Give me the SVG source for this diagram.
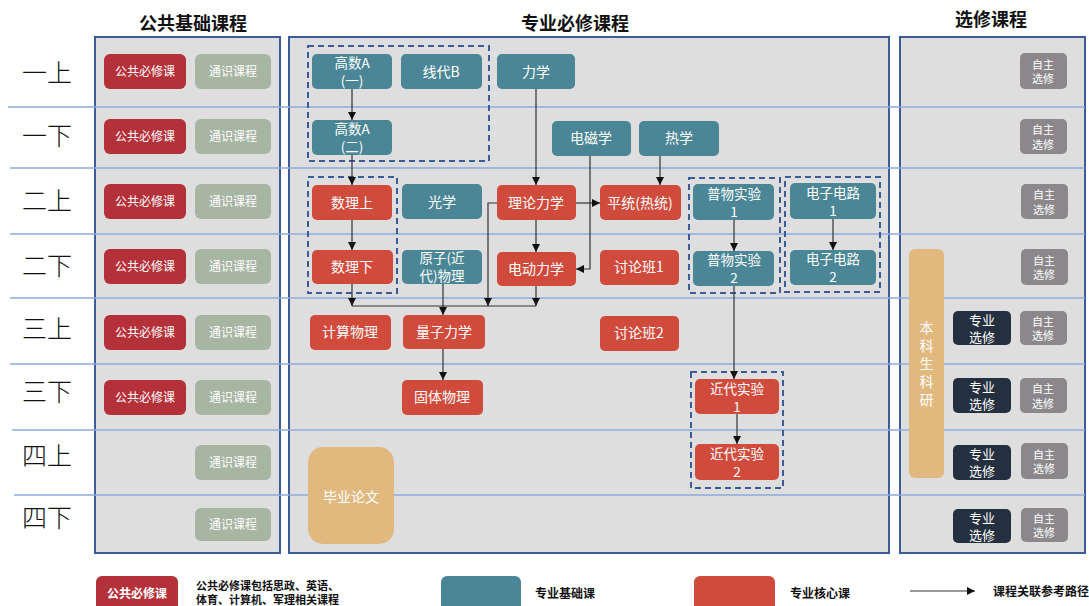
<svg xmlns="http://www.w3.org/2000/svg" width="1089" height="606" viewBox="0 0 1089 606">
<defs>
<style>
text{font-family:"Noto Sans CJK SC","Noto Sans",sans-serif;}
.panel{fill:#dedede;stroke:#3b5c99;stroke-width:2;}
.row{stroke:#8eaadb;stroke-width:1.3;}
.hdr{font-size:18px;font-weight:bold;fill:#111;text-anchor:middle;}
.sem{font-size:25px;fill:#111;text-anchor:middle;font-weight:300;}
.n{fill:#fff;font-size:14px;text-anchor:middle;}
.n2{fill:#fff;font-size:13.5px;text-anchor:middle;}
.e{fill:#fff;font-size:13px;text-anchor:middle;}
.s{fill:#fff;font-size:12px;text-anchor:middle;}
.z{fill:#fff;font-size:11px;text-anchor:middle;}
.v{fill:#fff;font-size:14px;text-anchor:middle;}
.teal{fill:#4a8696;}
.core{fill:#d04b3c;}
.pub{fill:#b5313a;}
.gen{fill:#a7b5a3;}
.gold{fill:#e1b97f;}
.dark{fill:#243040;}
.gray{fill:#8b878b;}
.dash{fill:none;stroke:#3b5c99;stroke-width:2;stroke-dasharray:6 4;}
.c{fill:none;stroke:#333;stroke-width:1.2;}
.leg{font-size:11px;font-weight:bold;fill:#111;}
.leg1{font-size:12px;font-weight:bold;fill:#111;}
</style>
<marker id="ah" viewBox="0 0 10 10" refX="10" refY="5" markerWidth="8" markerHeight="8" markerUnits="userSpaceOnUse" orient="auto">
<path d="M0,0 L10,5 L0,10 z" fill="#111"/>
</marker>
</defs>
<rect width="1089" height="606" fill="#fff"/>

<!-- headers -->
<text class="hdr" x="193" y="30">公共基础课程</text>
<text class="hdr" x="575" y="30">专业必修课程</text>
<text class="hdr" x="991" y="26">选修课程</text>

<!-- panels -->
<rect class="panel" x="95" y="37" width="185" height="516"/>
<rect class="panel" x="289" y="37" width="600" height="516"/>
<rect class="panel" x="900" y="37" width="185" height="516"/>

<!-- row lines -->
<g id="rows">
<line class="row" x1="8" y1="107" x2="1085" y2="107"/>
<line class="row" x1="10" y1="168" x2="1085" y2="168"/>
<line class="row" x1="10" y1="234" x2="1085" y2="234"/>
<line class="row" x1="10" y1="298" x2="1085" y2="298"/>
<line class="row" x1="10" y1="364" x2="1085" y2="364"/>
<line class="row" x1="12" y1="430" x2="1085" y2="430"/>
<line class="row" x1="14" y1="495" x2="1085" y2="495"/>
</g>

<!-- semester labels -->
<g id="semesters">
<text class="sem" x="47" y="82">一上</text>
<text class="sem" x="47" y="145">一下</text>
<text class="sem" x="47" y="210">二上</text>
<text class="sem" x="47" y="275">二下</text>
<text class="sem" x="47" y="338">三上</text>
<text class="sem" x="47" y="401">三下</text>
<text class="sem" x="47" y="465">四上</text>
<text class="sem" x="47" y="527">四下</text>
</g>

<!-- left panel -->
<g id="pub1"><rect class="pub" x="104" y="54" width="82" height="35" rx="6"/><text class="s" x="145" y="76">公共必修课</text></g>
<g id="gen1"><rect class="gen" x="195" y="54" width="76" height="35" rx="6"/><text class="s" x="233" y="76">通识课程</text></g>
<g id="pub2"><rect class="pub" x="104" y="119" width="82" height="35" rx="6"/><text class="s" x="145" y="141">公共必修课</text></g>
<g id="gen2"><rect class="gen" x="195" y="119" width="76" height="35" rx="6"/><text class="s" x="233" y="141">通识课程</text></g>
<g id="pub3"><rect class="pub" x="104" y="184" width="82" height="35" rx="6"/><text class="s" x="145" y="206">公共必修课</text></g>
<g id="gen3"><rect class="gen" x="195" y="184" width="76" height="35" rx="6"/><text class="s" x="233" y="206">通识课程</text></g>
<g id="pub4"><rect class="pub" x="104" y="249" width="82" height="35" rx="6"/><text class="s" x="145" y="271">公共必修课</text></g>
<g id="gen4"><rect class="gen" x="195" y="249" width="76" height="35" rx="6"/><text class="s" x="233" y="271">通识课程</text></g>
<g id="pub5"><rect class="pub" x="104" y="315" width="82" height="35" rx="6"/><text class="s" x="145" y="337">公共必修课</text></g>
<g id="gen5"><rect class="gen" x="195" y="315" width="76" height="35" rx="6"/><text class="s" x="233" y="337">通识课程</text></g>
<g id="pub6"><rect class="pub" x="104" y="380" width="82" height="35" rx="6"/><text class="s" x="145" y="402">公共必修课</text></g>
<g id="gen6"><rect class="gen" x="195" y="380" width="76" height="35" rx="6"/><text class="s" x="233" y="402">通识课程</text></g>
<g id="gen7"><rect class="gen" x="195" y="445" width="76" height="35" rx="6"/><text class="s" x="233" y="467">通识课程</text></g>
<g id="gen8"><rect class="gen" x="195" y="508" width="76" height="33" rx="6"/><text class="s" x="233" y="529">通识课程</text></g>

<!-- dashed groups -->
<g id="groups">
<rect class="dash" x="308" y="46" width="181" height="115"/>
<rect class="dash" x="308" y="177" width="89" height="116"/>
<rect class="dash" x="689" y="178" width="91" height="115"/>
<rect class="dash" x="785" y="177" width="95" height="115"/>
<rect class="dash" x="691" y="372" width="92" height="116"/>
</g>

<!-- connectors -->
<g id="connectors">
<line class="c" x1="352" y1="89" x2="352" y2="120" marker-end="url(#ah)"/>
<line class="c" x1="352" y1="155" x2="352" y2="185" marker-end="url(#ah)"/>
<line class="c" x1="352" y1="220" x2="352" y2="250" marker-end="url(#ah)"/>
<line class="c" x1="536" y1="89" x2="536" y2="185" marker-end="url(#ah)"/>
<line class="c" x1="660" y1="156" x2="660" y2="185" marker-end="url(#ah)"/>
<line class="c" x1="576" y1="203" x2="600" y2="203" marker-end="url(#ah)"/>
<line class="c" x1="536" y1="220" x2="536" y2="252" marker-end="url(#ah)"/>
<polyline class="c" points="590,156 590,269 576,269" marker-end="url(#ah)"/>
<line class="c" x1="352" y1="306" x2="536" y2="306"/>
<line class="c" x1="352" y1="284" x2="352" y2="306" marker-end="url(#ah)"/>
<polyline class="c" points="497,203 488,203 488,306" marker-end="url(#ah)"/>
<line class="c" x1="536" y1="286" x2="536" y2="306" marker-end="url(#ah)"/>
<line class="c" x1="443" y1="284" x2="443" y2="315" marker-end="url(#ah)"/>
<line class="c" x1="443" y1="349" x2="443" y2="380" marker-end="url(#ah)"/>
<line class="c" x1="734" y1="220" x2="734" y2="251" marker-end="url(#ah)"/>
<line class="c" x1="833" y1="219" x2="833" y2="250" marker-end="url(#ah)"/>
<line class="c" x1="734" y1="286" x2="734" y2="379" marker-end="url(#ah)"/>
<line class="c" x1="737" y1="414" x2="737" y2="444" marker-end="url(#ah)"/>
</g>

<!-- middle nodes -->
<g id="gaoshuA1"><rect class="teal" x="312" y="54" width="80" height="35" rx="5"/><text class="n2" x="352" y="68">高数A</text><text class="n2" x="352" y="86">(一)</text></g>
<g id="xiandaiB"><rect class="teal" x="401" y="54" width="81" height="35" rx="5"/><text class="n" x="441" y="77">线代B</text></g>
<g id="lixue"><rect class="teal" x="497" y="54" width="78" height="35" rx="5"/><text class="n" x="536" y="77">力学</text></g>
<g id="gaoshuA2"><rect class="teal" x="312" y="120" width="80" height="35" rx="5"/><text class="n2" x="352" y="134">高数A</text><text class="n2" x="352" y="152">(二)</text></g>
<g id="dianci"><rect class="teal" x="552" y="121" width="79" height="35" rx="5"/><text class="n" x="591" y="143">电磁学</text></g>
<g id="rexue"><rect class="teal" x="639" y="121" width="80" height="35" rx="5"/><text class="n" x="679" y="143">热学</text></g>
<g id="shulishang"><rect class="core" x="312" y="185" width="80" height="35" rx="5"/><text class="n" x="352" y="208">数理上</text></g>
<g id="guangxue"><rect class="teal" x="402" y="184" width="80" height="35" rx="5"/><text class="n" x="442" y="207">光学</text></g>
<g id="lilunlixue"><rect class="core" x="497" y="185" width="79" height="35" rx="5"/><text class="n" x="536" y="208">理论力学</text></g>
<g id="pingtong"><rect class="core" x="600" y="185" width="81" height="35" rx="5"/><text class="n" x="640" y="208">平统(热统)</text></g>
<g id="puwu1"><rect class="teal" x="693" y="184" width="81" height="36" rx="5"/><text class="n2" x="734" y="199">普物实验</text><text class="n2" x="734" y="217">1</text></g>
<g id="dianzi1"><rect class="teal" x="790" y="183" width="86" height="36" rx="5"/><text class="n2" x="833" y="198">电子电路</text><text class="n2" x="833" y="216">1</text></g>
<g id="shulixia"><rect class="core" x="312" y="250" width="81" height="34" rx="5"/><text class="n" x="352" y="272">数理下</text></g>
<g id="yuanzi"><rect class="teal" x="402" y="250" width="80" height="34" rx="5"/><text class="n2" x="442" y="263">原子(近</text><text class="n2" x="442" y="281">代)物理</text></g>
<g id="diandong"><rect class="core" x="497" y="252" width="79" height="34" rx="5"/><text class="n" x="536" y="274">电动力学</text></g>
<g id="taolun1"><rect class="core" x="600" y="250" width="79" height="35" rx="5"/><text class="n" x="639" y="272">讨论班1</text></g>
<g id="puwu2"><rect class="teal" x="693" y="251" width="81" height="35" rx="5"/><text class="n2" x="734" y="265">普物实验</text><text class="n2" x="734" y="283">2</text></g>
<g id="dianzi2"><rect class="teal" x="790" y="250" width="86" height="35" rx="5"/><text class="n2" x="833" y="264">电子电路</text><text class="n2" x="833" y="282">2</text></g>
<g id="jisuan"><rect class="core" x="310" y="315" width="81" height="35" rx="5"/><text class="n" x="350" y="337">计算物理</text></g>
<g id="liangzi"><rect class="core" x="403" y="315" width="82" height="34" rx="5"/><text class="n" x="444" y="337">量子力学</text></g>
<g id="taolun2"><rect class="core" x="600" y="316" width="79" height="35" rx="5"/><text class="n" x="639" y="338">讨论班2</text></g>
<g id="guti"><rect class="core" x="402" y="380" width="81" height="35" rx="5"/><text class="n" x="442" y="402">固体物理</text></g>
<g id="jindai1"><rect class="core" x="695" y="379" width="84" height="35" rx="5"/><text class="n2" x="737" y="394">近代实验</text><text class="n2" x="737" y="412">1</text></g>
<g id="jindai2"><rect class="core" x="695" y="444" width="84" height="36" rx="5"/><text class="n2" x="737" y="459">近代实验</text><text class="n2" x="737" y="477">2</text></g>
<g id="biye"><rect class="gold" x="308" y="447" width="86" height="97" rx="15"/><text class="n" x="351" y="502">毕业论文</text></g>

<!-- right panel -->
<g id="zizhu1"><rect class="gray" x="1020" y="53" width="47" height="36" rx="5"/><text class="z" x="1043" y="68.5">自主</text><text class="z" x="1043" y="83">选修</text></g>
<g id="zizhu2"><rect class="gray" x="1020" y="119" width="47" height="35" rx="5"/><text class="z" x="1043" y="134">自主</text><text class="z" x="1043" y="148.5">选修</text></g>
<g id="zizhu3"><rect class="gray" x="1021" y="184" width="47" height="35" rx="5"/><text class="z" x="1044" y="199">自主</text><text class="z" x="1044" y="213.5">选修</text></g>
<g id="zizhu4"><rect class="gray" x="1021" y="249" width="47" height="36" rx="5"/><text class="z" x="1044" y="264.5">自主</text><text class="z" x="1044" y="279">选修</text></g>
<g id="zizhu5"><rect class="gray" x="1020" y="311" width="47" height="34" rx="5"/><text class="z" x="1043" y="325.5">自主</text><text class="z" x="1043" y="340">选修</text></g>
<g id="zizhu6"><rect class="gray" x="1020" y="378" width="47" height="35" rx="5"/><text class="z" x="1043" y="393">自主</text><text class="z" x="1043" y="407.5">选修</text></g>
<g id="zizhu7"><rect class="gray" x="1021" y="443" width="47" height="36" rx="5"/><text class="z" x="1044" y="458.5">自主</text><text class="z" x="1044" y="473">选修</text></g>
<g id="zizhu8"><rect class="gray" x="1021" y="508" width="47" height="34" rx="5"/><text class="z" x="1044" y="522.5">自主</text><text class="z" x="1044" y="537">选修</text></g>
<g id="zhuanye1"><rect class="dark" x="953" y="311" width="58" height="34" rx="5"/><text class="e" x="982" y="325">专业</text><text class="e" x="982" y="342">选修</text></g>
<g id="zhuanye2"><rect class="dark" x="953" y="378" width="58" height="35" rx="5"/><text class="e" x="982" y="392">专业</text><text class="e" x="982" y="409">选修</text></g>
<g id="zhuanye3"><rect class="dark" x="953" y="445" width="58" height="35" rx="5"/><text class="e" x="982" y="459">专业</text><text class="e" x="982" y="476">选修</text></g>
<g id="zhuanye4"><rect class="dark" x="953" y="509" width="58" height="34" rx="5"/><text class="e" x="982" y="523">专业</text><text class="e" x="982" y="540">选修</text></g>
<g id="keyan"><rect class="gold" x="909" y="249" width="35" height="229" rx="6"/>
<text class="v" x="926.5" y="333">本</text>
<text class="v" x="926.5" y="351">科</text>
<text class="v" x="926.5" y="369">生</text>
<text class="v" x="926.5" y="387">科</text>
<text class="v" x="926.5" y="405">研</text>
</g>

<!-- legend -->
<g id="legend">
<rect class="pub" x="96" y="576" width="82" height="40" rx="6"/>
<text class="s" x="137" y="598" style="font-weight:bold">公共必修课</text>
<text class="leg" x="196" y="590">公共必修课包括思政、英语、</text>
<text class="leg" x="196" y="604">体育、计算机、军理相关课程</text>
<rect class="teal" x="441" y="576" width="80" height="40" rx="6"/>
<text class="leg1" x="535" y="598">专业基础课</text>
<rect class="core" x="694" y="576" width="81" height="40" rx="6"/>
<text class="leg1" x="790" y="598">专业核心课</text>
<line class="c" x1="910" y1="591" x2="975" y2="591" marker-end="url(#ah)"/>
<text class="leg1" x="993" y="596">课程关联参考路径</text>
</g>
</svg>
